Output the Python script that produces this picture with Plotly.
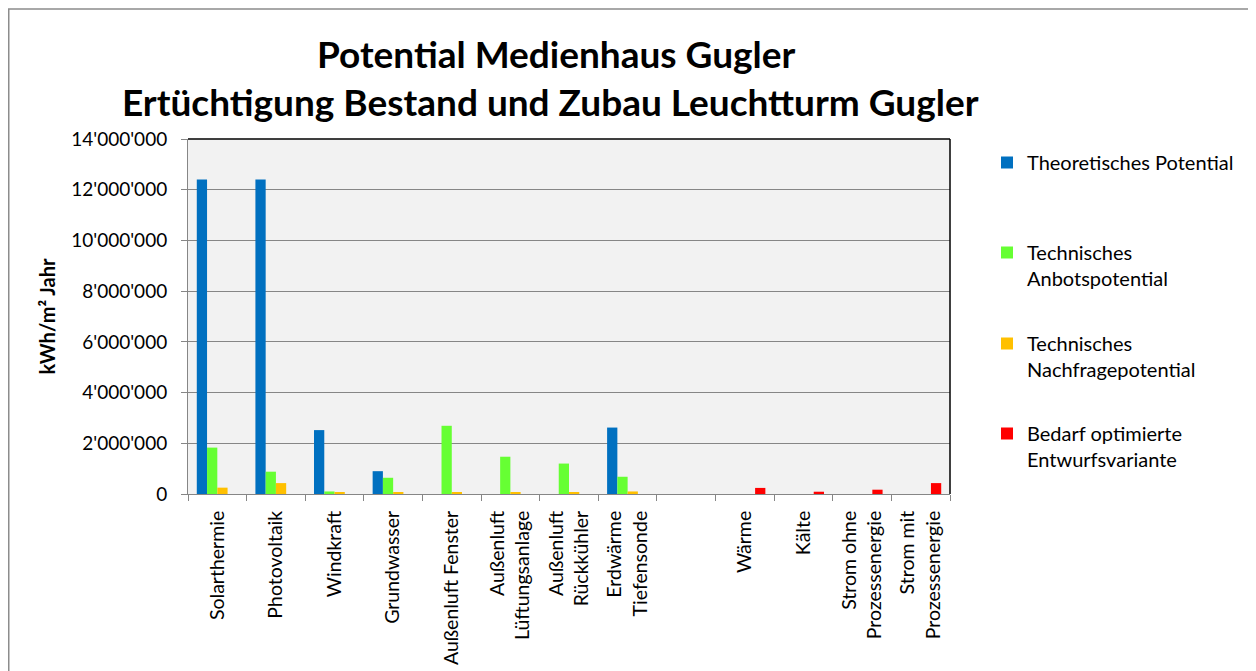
import plotly.graph_objects as go

categories = ["Solarthermie", "Photovoltaik", "Windkraft", "Grundwasser",
              "Außenluft Fenster", "Außenluft<br>Lüftungsanlage", "Außenluft<br>Rückkühler",
              "Erdwärme<br>Tiefensonde", " ", "Wärme", "Kälte",
              "Strom ohne<br>Prozessenergie", "Strom mit<br>Prozessenergie"]

theoretisch = [12400000, 12400000, 2520000, 900000, 0, 0, 0, 2620000, 0, 0, 0, 0, 0]
anbot = [1830000, 880000, 100000, 640000, 2690000, 1470000, 1200000, 680000, 0, 0, 0, 0, 0]
nachfrage = [250000, 430000, 70000, 70000, 80000, 60000, 50000, 100000, 0, 0, 0, 0, 0]
bedarf = [0, 0, 0, 0, 0, 0, 0, 0, 0, 240000, 90000, 170000, 430000]

series_names = ["Theoretisches Potential", "Technisches<br>Anbotspotential",
                "Technisches<br>Nachfragepotential", "Bedarf optimierte<br>Entwurfsvariante"]
series_values = [theoretisch, anbot, nachfrage, bedarf]
series_colors = ["#0070C0", "#66FF33", "#FFC000", "#FF0000"]
legend_ids = ["legend", "legend2", "legend3", "legend4"]

# figure coordinates (page has an 8px body margin)
W, H = 1248, 663
L, R, T, B = 180, 942, 131, 486  # plot area in px

FONT = "Lato"

fig = go.Figure()
for name, vals, col, lg in zip(series_names, series_values, series_colors, legend_ids):
    fig.add_trace(go.Bar(x=categories, y=vals, name=name, marker_color=col,
                         marker_line_width=0, legend=lg))

def cy(py):
    return 1 - py / H

legend_common = dict(xref="container", yref="container", xanchor="left", yanchor="top",
                     bgcolor="rgba(0,0,0,0)", borderwidth=0,
                     font=dict(family=FONT, size=20, color="#000"), valign="top",
                     itemwidth=30)
leg_y = [135, 225, 316, 406]
layout_legends = {}
for lg, py in zip(legend_ids, leg_y):
    layout_legends[lg] = dict(x=979 / W, y=cy(py), **legend_common)

def px2paper_x(px):
    return (px - L) / (R - L)

def px2paper_y(py):
    return (B - py) / (B - T)

fig.update_layout(
    width=W, height=H,
    margin=dict(l=L, r=W - R, t=T, b=H - B, autoexpand=False),
    paper_bgcolor="white",
    plot_bgcolor="#F2F2F2",
    barmode="group", bargap=0.3, bargroupgap=0,
    separators=".'",
    font=dict(family=FONT, color="#000"),
    xaxis=dict(type="category", tickangle=-90, tickson="boundaries",
               automargin=False,
               ticks="outside", ticklen=6, tickcolor="#868686",
               ticklabelstandoff=8,
               showline=True, linecolor="#868686", linewidth=1,
               showgrid=False, tickfont=dict(family=FONT, size=19.5, color="#000")),
    yaxis=dict(range=[0, 14000000], dtick=2000000, tickformat=",d",
               automargin=False,
               ticks="outside", ticklen=6, tickcolor="#868686",
               ticklabelstandoff=10,
               showline=True, linecolor="#868686", linewidth=1,
               showgrid=True, gridcolor="#868686", gridwidth=1,
               zeroline=False,
               tickfont=dict(family=FONT, size=19, color="#000"),
               title=dict(text="<b>kWh/m² Jahr</b>", standoff=10,
                          font=dict(family=FONT, size=20, color="#000"))),
    showlegend=True,
    **layout_legends,
)

# titles
fig.add_annotation(text="<b>Potential Medienhaus Gugler</b>", xref="paper", yref="paper",
                   x=px2paper_x(548), y=px2paper_y(45), showarrow=False,
                   font=dict(family=FONT, size=37, color="#000"), xanchor="center", yanchor="middle")
fig.add_annotation(text="<b>Ertüchtigung Bestand und Zubau Leuchtturm Gugler</b>", xref="paper", yref="paper",
                   x=px2paper_x(542), y=px2paper_y(94), showarrow=False,
                   font=dict(family=FONT, size=37, color="#000"), xanchor="center", yanchor="middle")

# plot area top/right border (black) and outer chart border (gray)
fig.add_shape(type="line", xref="paper", yref="paper", x0=0, x1=1, y0=1, y1=1,
              line=dict(color="#000", width=1.5))
fig.add_shape(type="line", xref="paper", yref="paper", x0=1, x1=1, y0=0, y1=1,
              line=dict(color="#000", width=1.5))
fig.add_shape(type="rect", xref="paper", yref="paper",
              x0=px2paper_x(0.75), x1=px2paper_x(1245), y0=px2paper_y(720), y1=px2paper_y(1),
              line=dict(color="#8C8C8C", width=1.5), fillcolor="rgba(0,0,0,0)", layer="below")

fig.write_html("out.html")
